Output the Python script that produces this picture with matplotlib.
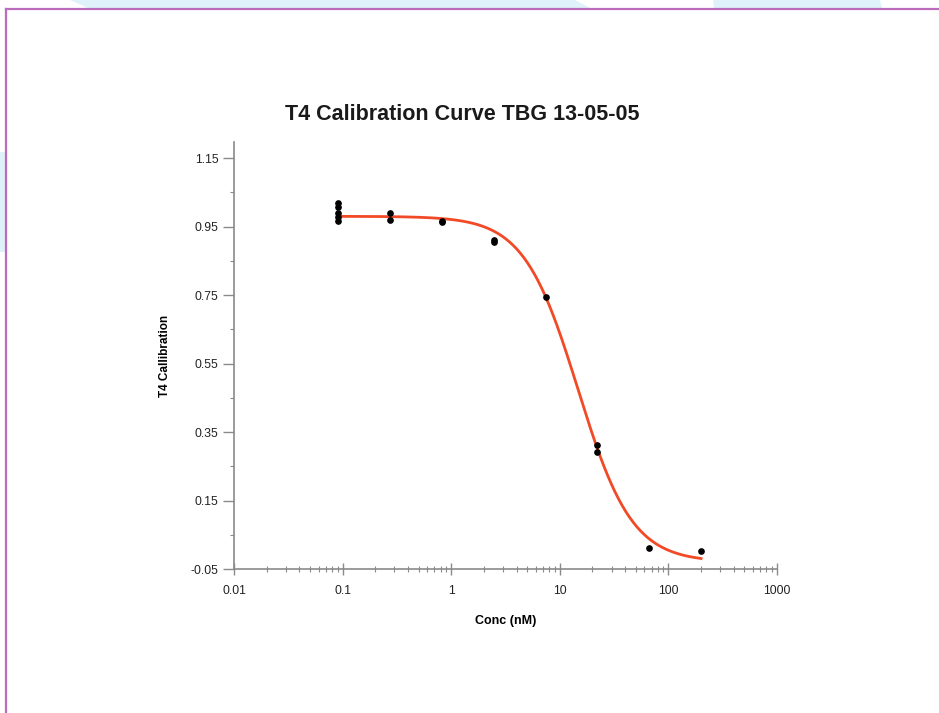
import numpy as np
import matplotlib.pyplot as plt
from matplotlib.patches import Polygon, Rectangle
from matplotlib.ticker import FixedLocator, LogLocator, NullFormatter

plt.rcParams['font.family'] = ['Liberation Sans', 'DejaVu Sans']

# measured points (conc in nM, signal)
conc = [0.0914, 0.0914, 0.0914, 0.0914, 0.0914,
        0.274, 0.274,
        0.823, 0.823,
        2.47, 2.47,
        7.41,
        22.2, 22.2,
        66.7,
        200]
signal = [1.018, 1.006, 0.99, 0.978, 0.965,
          0.99, 0.968,
          0.966, 0.962,
          0.912, 0.905,
          0.745,
          0.312, 0.292,
          0.011,
          0.003]

# 4PL fit parameters
top = 0.98
bottom = -0.03
ic50 = 14.7
hill = 1.74
curve_range = [0.0914, 200]

y_ticks = [-0.05, 0.15, 0.35, 0.55, 0.75, 0.95, 1.15]
x_ticks = [0.01, 0.1, 1, 10, 100, 1000]
x_labels = ['0.01', '0.1', '1', '10', '100', '1000']

fig = plt.figure(figsize=(9.39, 7.13), dpi=100)

# page decoration: light blue shapes and magenta frame
blue = '#e0f2f9'
fig.patches.append(Polygon([[70 / 939, 1], [575 / 939, 1], [590 / 939, 1 - 8 / 713], [88 / 939, 1 - 8 / 713]],
                           closed=True, transform=fig.transFigure, facecolor=blue, edgecolor='none'))
fig.patches.append(Polygon([[713 / 939, 1], [880 / 939, 1], [882 / 939, 1 - 8 / 713], [714 / 939, 1 - 8 / 713]],
                           closed=True, transform=fig.transFigure, facecolor=blue, edgecolor='none'))
fig.patches.append(Rectangle((0, 1 - 252 / 713), 5 / 939, 100 / 713, transform=fig.transFigure,
                             facecolor=blue, edgecolor='none'))
fig.add_artist(plt.Line2D([6 / 939, 1], [1 - 9 / 713, 1 - 9 / 713], transform=fig.transFigure,
                          color='#bb6cbd', lw=1.6))
fig.add_artist(plt.Line2D([6 / 939, 6 / 939], [0, 1 - 9 / 713], transform=fig.transFigure,
                          color='#bb6cbd', lw=1.6))

ax = fig.add_axes([234 / 939, 1 - 569 / 713, (777 - 234) / 939, (569 - 142) / 713])

xs = np.logspace(np.log10(curve_range[0]), np.log10(curve_range[1]), 300)
fit = bottom + (top - bottom) / (1 + (xs / ic50) ** hill)
ax.plot(xs, fit, color='#f24a26', lw=2.0, zorder=2)
ax.plot(conc, signal, 'o', color='black', markersize=3.8, zorder=3)

ax.set_xscale('log')
ax.set_xlim(0.01, 1000)
ax.set_ylim(-0.05, 1.197)
ax.set_xticks(x_ticks)
ax.set_xticklabels(x_labels)
ax.xaxis.set_minor_locator(LogLocator(base=10, subs=np.arange(2, 10)))
ax.xaxis.set_minor_formatter(NullFormatter())
ax.set_yticks(y_ticks)
ax.set_yticklabels(['%.2f' % v for v in y_ticks])
ax.yaxis.set_minor_locator(FixedLocator([0.05, 0.25, 0.45, 0.65, 0.85, 1.05]))

for s in ['top', 'right']:
    ax.spines[s].set_visible(False)
for s in ['left', 'bottom']:
    ax.spines[s].set_color('#8a8a8a')
    ax.spines[s].set_linewidth(1.2)

ax.tick_params(axis='x', which='major', direction='inout', length=9, width=1, color='#8a8a8a',
               labelsize=8.8, labelcolor='#222222', pad=7)
ax.tick_params(axis='x', which='minor', direction='inout', length=4, width=0.8, color='#8a8a8a')
ax.tick_params(axis='y', which='major', direction='out', length=8, width=1, color='#8a8a8a',
               labelsize=8.8, labelcolor='#222222', pad=3)
ax.tick_params(axis='y', which='minor', direction='out', length=3, width=0.8, color='#8a8a8a')

fig.text(462 / 939, 1 - 115 / 713, 'T4 Calibration Curve TBG 13-05-05', fontsize=15.5, fontweight='bold',
         ha='center', va='center', color='#1a1a1a')
ax.set_xlabel('Conc (nM)', fontsize=9, fontweight='bold', labelpad=13)
ax.set_ylabel('T4 Callibration', fontsize=8.5, fontweight='bold', labelpad=14)

fig.savefig('out.png', dpi=100)
